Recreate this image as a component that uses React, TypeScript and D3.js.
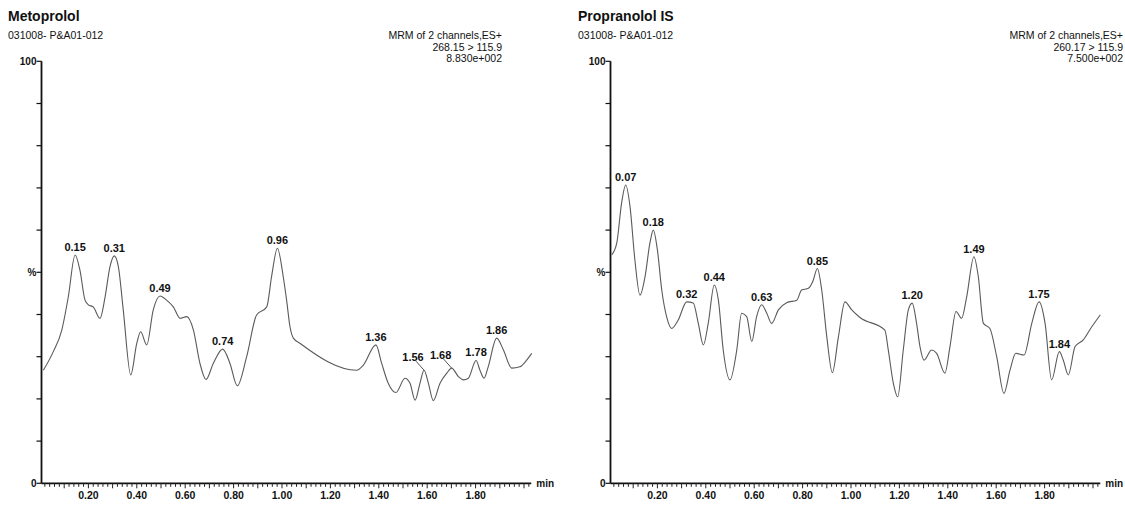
import React, { useRef, useEffect } from "react";
import * as d3 from "d3";

// retention time (min) vs relative intensity (%)
const metoprololTrace: [number, number][] = [
  [0.014, 26.8], [0.055, 31.2], [0.09, 36.3], [0.117, 44.2], [0.145, 54.1], [0.165, 50.5],
  [0.186, 43.4], [0.2, 42.3], [0.22, 41.8], [0.248, 39.1], [0.269, 44.2], [0.289, 51.3],
  [0.307, 53.9], [0.324, 51.3], [0.344, 41.1], [0.375, 25.7], [0.4, 33.2], [0.416, 35.9],
  [0.441, 32.8], [0.468, 41.1], [0.496, 44.4], [0.523, 43.4], [0.551, 41.8], [0.579, 39.1],
  [0.606, 39.5], [0.634, 36.3], [0.661, 28.4], [0.686, 24.6], [0.716, 28.4], [0.755, 31.8],
  [0.785, 28.4], [0.815, 23.1], [0.854, 30.0], [0.895, 39.9], [0.937, 41.8], [0.957, 49.0],
  [0.981, 55.7], [1.005, 49.0], [1.019, 43.4], [1.033, 37.1], [1.047, 34.4], [1.074, 33.2],
  [1.309, 26.8], [1.336, 28.0], [1.388, 32.8], [1.412, 28.4], [1.439, 23.7], [1.471, 21.5],
  [1.508, 24.9], [1.529, 23.7], [1.55, 19.7], [1.57, 23.7], [1.587, 26.8], [1.605, 23.7],
  [1.625, 19.6], [1.653, 23.7], [1.681, 26.1], [1.701, 27.3], [1.729, 25.3], [1.75, 24.5],
  [1.77, 24.9], [1.802, 29.1], [1.818, 26.8], [1.835, 24.9], [1.852, 27.6], [1.887, 34.4],
  [1.915, 31.6], [1.949, 27.3], [1.983, 27.6], [2.011, 29.2], [2.032, 30.8],
];
const metoprololPeaks = [
  { text: "0.15", t: 0.145 }, { text: "0.31", t: 0.307 }, { text: "0.49", t: 0.496 },
  { text: "0.74", t: 0.755 }, { text: "0.96", t: 0.981 }, { text: "1.36", t: 1.388 },
  { text: "1.56", t: 1.587, leader: true }, { text: "1.68", t: 1.701, leader: true },
  { text: "1.78", t: 1.802 }, { text: "1.86", t: 1.887 },
];

const propranololTrace: [number, number][] = [
  [0.011, 54.1], [0.032, 56.9], [0.052, 66.4], [0.069, 70.7], [0.087, 65.5], [0.107, 52.9],
  [0.128, 44.6], [0.149, 49.0], [0.169, 56.9], [0.183, 60.0], [0.2, 55.3], [0.218, 45.8],
  [0.238, 39.5], [0.259, 36.7], [0.286, 38.7], [0.321, 43.0], [0.348, 42.7], [0.369, 37.9],
  [0.39, 32.8], [0.41, 37.9], [0.435, 47.0], [0.452, 43.4], [0.472, 31.6], [0.5, 24.5],
  [0.528, 31.6], [0.548, 40.3], [0.569, 39.5], [0.59, 33.6], [0.61, 39.5], [0.631, 42.3],
  [0.652, 40.3], [0.672, 37.9], [0.7, 41.1], [0.734, 42.8], [0.776, 43.4], [0.796, 45.8],
  [0.824, 46.2], [0.842, 47.8], [0.861, 50.9], [0.879, 45.8], [0.9, 34.7], [0.923, 26.2],
  [0.948, 34.7], [0.975, 43.0], [1.003, 41.1], [1.037, 39.3], [1.14, 36.3], [1.154, 31.6],
  [1.175, 23.7], [1.193, 20.5], [1.216, 31.6], [1.237, 41.1], [1.253, 42.7], [1.271, 37.9],
  [1.285, 32.4], [1.302, 29.2], [1.333, 31.6], [1.354, 30.8], [1.388, 26.1], [1.409, 32.4],
  [1.434, 40.7], [1.457, 39.1], [1.478, 44.2], [1.508, 53.7], [1.526, 49.0], [1.547, 37.9],
  [1.574, 36.7], [1.602, 30.0], [1.632, 21.3], [1.657, 26.8], [1.681, 30.8], [1.715, 30.4],
  [1.747, 37.9], [1.777, 43.0], [1.802, 37.9], [1.829, 24.5], [1.861, 31.2], [1.877, 29.2],
  [1.898, 25.7], [1.926, 32.4], [1.96, 34.0], [1.995, 37.1], [2.03, 39.9],
];
const propranololPeaks = [
  { text: "0.07", t: 0.069 }, { text: "0.18", t: 0.183 }, { text: "0.32", t: 0.321 },
  { text: "0.44", t: 0.435 }, { text: "0.63", t: 0.631 }, { text: "0.85", t: 0.861 },
  { text: "1.20", t: 1.253 }, { text: "1.49", t: 1.508 }, { text: "1.75", t: 1.777 },
  { text: "1.84", t: 1.861 },
];

const xTickValues = [0.2, 0.4, 0.6, 0.8, 1.0, 1.2, 1.4, 1.6, 1.8];
const yTickLabels: Record<number, string> = { 0: "0", 50: "%", 100: "100" };

const panels = [
  {
    title: "Metoprolol", sample: "031008- P&A01-012",
    info: ["MRM of 2 channels,ES+", "268.15 > 115.9", "8.830e+002"],
    trace: metoprololTrace, peaks: metoprololPeaks,
    left: 8, x0: 40, infoRight: 502,
  },
  {
    title: "Propranolol IS", sample: "031008- P&A01-012",
    info: ["MRM of 2 channels,ES+", "260.17 > 115.9", "7.500e+002"],
    trace: propranololTrace, peaks: propranololPeaks,
    left: 578, x0: 609, infoRight: 1123,
  },
];

const FONT = "'Liberation Sans', Arial, sans-serif";

const App = () => {
  const ref = useRef<SVGSVGElement>(null);

  useEffect(() => {
    if (!ref.current) return;
    const svg = d3.select(ref.current);
    svg.selectAll("*").remove();

    const y = d3.scaleLinear().domain([0, 100]).range([483.3, 61.3]);

    panels.forEach(p => {
      const x = d3.scaleLinear().domain([0, 2]).range([p.x0, p.x0 + 484]);
      const g = svg.append("g").attr("font-family", FONT).attr("fill", "#111");
      const axisX = p.x0 + 1.5;
      const xEnd = x(2.03);

      // header
      g.append("text").attr("x", p.left).attr("y", 21)
        .attr("font-size", 14).attr("font-weight", "bold").text(p.title);
      g.append("text").attr("x", p.left).attr("y", 39)
        .attr("font-size", 10.5).text(p.sample);
      p.info.forEach((s, i) => {
        g.append("text").attr("x", p.infoRight).attr("y", 39 + i * 11.5)
          .attr("text-anchor", "end").attr("font-size", 10.5).text(s);
      });

      // y axis
      g.append("line").attr("x1", axisX).attr("x2", axisX)
        .attr("y1", y(100)).attr("y2", y(0)).attr("stroke", "#111").attr("stroke-width", 1.8);
      d3.range(0, 101, 10).forEach(v => {
        g.append("line").attr("x1", axisX - 5).attr("x2", axisX)
          .attr("y1", y(v)).attr("y2", y(v)).attr("stroke", "#111").attr("stroke-width", 1.2);
        if (yTickLabels[v] !== undefined) {
          g.append("text").attr("x", axisX - 5).attr("y", y(v) + 3.5)
            .attr("text-anchor", "end").attr("font-size", 10).attr("font-weight", 600)
            .text(yTickLabels[v]);
        }
      });

      // x axis
      g.append("line").attr("x1", axisX).attr("x2", xEnd)
        .attr("y1", y(0)).attr("y2", y(0)).attr("stroke", "#111").attr("stroke-width", 1.8);
      d3.range(1, 102).map(i => i * 0.02).filter(t => x(t) <= xEnd).forEach((t, i) => {
        const major = (i + 1) % 5 === 0;
        g.append("line").attr("x1", x(t)).attr("x2", x(t))
          .attr("y1", y(0)).attr("y2", y(0) + (major ? 5 : 3.5))
          .attr("stroke", "#222").attr("stroke-width", 1);
      });
      xTickValues.forEach(t => {
        g.append("text").attr("x", x(t)).attr("y", y(0) + 16)
          .attr("text-anchor", "middle").attr("font-size", 10.5).attr("font-weight", 600)
          .text(d3.format(".2f")(t));
      });
      g.append("text").attr("x", xEnd + 5).attr("y", y(0) + 3.5)
        .attr("font-size", 10).attr("font-weight", 600).text("min");

      // trace
      const line = d3.line<[number, number]>()
        .x(d => x(d[0])).y(d => y(d[1])).curve(d3.curveMonotoneX);
      g.append("path").datum(p.trace).attr("d", line)
        .attr("fill", "none").attr("stroke", "#5a5a5a").attr("stroke-width", 1.1);

      // peak labels
      p.peaks.forEach(pk => {
        const pt = p.trace.reduce((a, b) => Math.abs(b[0] - pk.t) < Math.abs(a[0] - pk.t) ? b : a);
        const px = x(pt[0]), py = y(pt[1]);
        if (pk.leader) {
          g.append("line").attr("x1", px - 8).attr("y1", py - 9).attr("x2", px).attr("y2", py)
            .attr("stroke", "#555").attr("stroke-width", 1);
          g.append("text").attr("x", px - 11).attr("y", py - 9)
            .attr("text-anchor", "middle").attr("font-size", 11).attr("font-weight", "bold")
            .text(pk.text);
        } else {
          g.append("text").attr("x", px).attr("y", py - 4)
            .attr("text-anchor", "middle").attr("font-size", 11).attr("font-weight", "bold")
            .text(pk.text);
        }
      });
    });
  }, []);

  return (
    <svg ref={ref} width={1125} height={508}
      style={{ position: "absolute", left: 0, top: 0, background: "#fff" }} />
  );
};

export default App;
